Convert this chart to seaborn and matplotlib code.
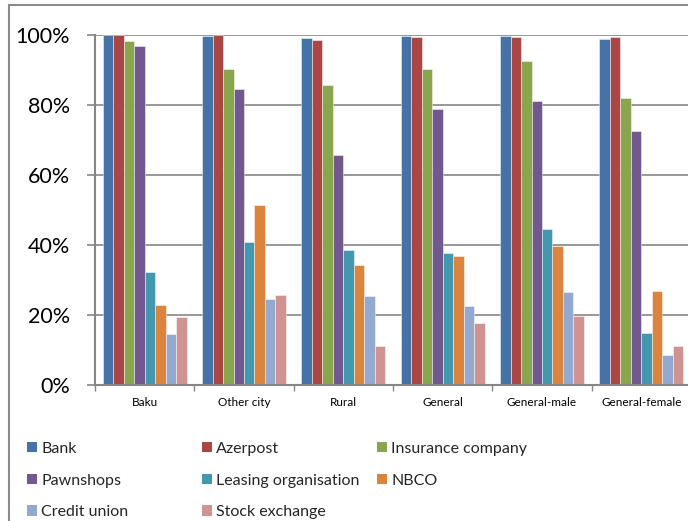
import matplotlib
matplotlib.use("Agg")
import matplotlib.pyplot as plt
from matplotlib.patches import Patch
from matplotlib.lines import Line2D
from matplotlib.ticker import PercentFormatter, FixedLocator
import numpy as np
import pandas as pd
import seaborn as sns

# Share of respondents aware of each financial institution, by area and gender
areas = ["Baku", "Other city", "Rural", "General", "General-male", "General-female"]
institutions = ["Bank", "Azerpost", "Insurance company", "Pawnshops",
                "Leasing organisation", "NBCO", "Credit union", "Stock exchange"]

bank = [100.0, 99.8, 99.2, 99.6, 99.8, 98.9]
azerpost = [100.0, 100.0, 98.7, 99.4, 99.4, 99.3]
insurance = [98.3, 90.2, 85.7, 90.2, 92.7, 81.9]
pawnshops = [97.0, 84.6, 65.7, 79.0, 81.1, 72.6]
leasing = [32.2, 40.8, 38.6, 37.7, 44.6, 14.9]
nbco = [23.0, 51.4, 34.3, 36.8, 39.7, 26.9]
credit_union = [14.5, 24.5, 25.4, 22.5, 26.7, 8.5]
stock_exchange = [19.5, 25.6, 11.2, 17.6, 19.6, 11.1]

colors = ["#4572A7", "#AA4643", "#89A54E", "#71588F",
          "#4198AF", "#DB843D", "#93A9CF", "#D19392"]

series = [bank, azerpost, insurance, pawnshops, leasing, nbco,
          credit_union, stock_exchange]
df = pd.DataFrame(
    [(a, inst, v / 100.0)
     for inst, vals in zip(institutions, series)
     for a, v in zip(areas, vals)],
    columns=["area", "institution", "share"],
)

sns.set_style("white")
plt.rcParams["font.family"] = ["Lato", "DejaVu Sans"]

W, H = 688, 521
fig = plt.figure(figsize=(W / 100, H / 100), dpi=100)
ax = fig.add_axes([95 / W, 1 - 385 / H, (691 - 95) / W, 350 / H])

grid_col = "#868686"
sns.barplot(data=df, x="area", y="share", hue="institution",
            order=areas, hue_order=institutions, palette=colors,
            saturation=1, width=0.845, ax=ax,
            edgecolor=(1, 1, 1, 0.55), linewidth=0.6, legend=False)

ax.set_xlim(-0.5, len(areas) - 0.5)
ax.set_ylim(0, 1.0)
ax.set_xlabel("")
ax.set_ylabel("")

ax.set_axisbelow(True)
ax.yaxis.grid(True, color=grid_col, linewidth=1.2)
ax.xaxis.grid(False)
ax.yaxis.set_major_locator(FixedLocator(np.linspace(0, 1, 6)))
ax.yaxis.set_major_formatter(PercentFormatter(1.0, decimals=0))

for side in ["top", "right"]:
    ax.spines[side].set_visible(False)
for side in ["left", "bottom"]:
    ax.spines[side].set_color(grid_col)
    ax.spines[side].set_linewidth(1.5)

ax.tick_params(axis="y", which="major", length=6, width=1.2, color=grid_col,
               direction="out", pad=12, labelsize=15.5, labelcolor="black", left=True)
ax.tick_params(axis="x", which="major", length=0, pad=9, labelsize=8.5,
               labelcolor="black")
ax.xaxis.set_minor_locator(FixedLocator(np.arange(-0.5, len(areas), 1.0)))
ax.tick_params(axis="x", which="minor", length=4, width=1.0, color=grid_col,
               direction="out", bottom=True)

# Legend laid out in three columns, filled row by row
cols = [[0, 3, 6], [1, 4, 7], [2, 5]]
col_x = [27, 202, 377]
for idx, x in zip(cols, col_x):
    handles = [Patch(facecolor=colors[i], edgecolor="none", label=institutions[i])
               for i in idx]
    fig.legend(handles=handles, loc="upper left",
               bbox_to_anchor=(x / W, 1 - 442 / H), frameon=False,
               fontsize=11.5, handlelength=0.6, handleheight=0.6,
               handletextpad=0.3, labelspacing=1.1, borderpad=0,
               borderaxespad=0)

# Outer frame of the chart area (left and top edges)
top_y = 1 - 5 / H
left_x = 9 / W
fig.add_artist(Line2D([left_x, left_x], [0, top_y], transform=fig.transFigure,
                      color="#8c8c8c", linewidth=1.5))
fig.add_artist(Line2D([left_x, 1], [top_y, top_y], transform=fig.transFigure,
                      color="#8c8c8c", linewidth=1.5))
fig.text(31 / W, 1 + 12 / H, "g", fontsize=14, fontweight="bold",
         ha="left", va="baseline")

fig.savefig("out.png", dpi=100)
